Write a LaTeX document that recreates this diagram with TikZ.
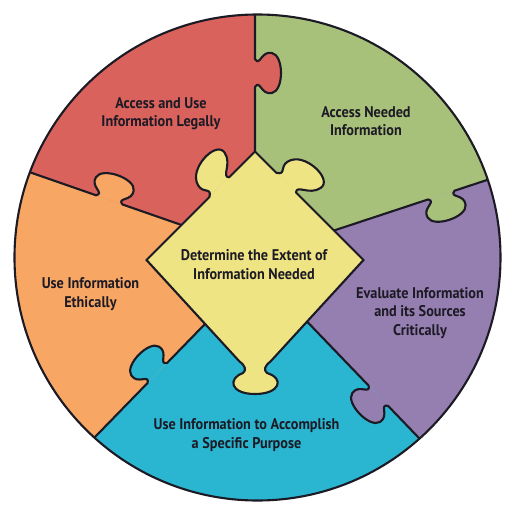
\documentclass[tikz,border=0pt]{standalone}
\usepackage{fontspec}
\newfontfamily\piecefont{PT Sans}[FakeStretch=0.92]
\usepackage{tikz}
\usetikzlibrary{calc}

\definecolor{legalred}{HTML}{D9625C}
\definecolor{accessgreen}{HTML}{A8C17A}
\definecolor{evalpurple}{HTML}{957EB0}
\definecolor{purposeblue}{HTML}{2AB6D0}
\definecolor{ethicorange}{HTML}{F7A664}
\definecolor{extentyellow}{HTML}{EEE484}
\definecolor{inkdark}{HTML}{1C1A24}

% puzzle knob on the local x axis, centred at #1, height factor #2
\newcommand\knob[2]{-- ({#1-0.28},0)
  .. controls ({#1-0.12},{#2*0.10}) and ({#1-0.45},{#2*0.12}) .. ({#1-0.40},{#2*0.34})
  .. controls ({#1-0.35},{#2*0.58}) and ({#1+0.35},{#2*0.58}) .. ({#1+0.40},{#2*0.34})
  .. controls ({#1+0.45},{#2*0.12}) and ({#1+0.12},{#2*0.10}) .. ({#1+0.28},0)}
% foot of the centre piece
\newcommand\stemknob{.. controls (0.14,-2.17) and (0.12,-2.25) .. (0.19,-2.31)
  .. controls (0.55,-2.42) and (0.45,-2.73) .. (-0.05,-2.73)
  .. controls (-0.55,-2.73) and (-0.60,-2.42) .. (-0.29,-2.31)
  .. controls (-0.22,-2.25) and (-0.24,-2.17) .. (-0.36,-2.08)}

\begin{document}
\begin{tikzpicture}[
  seam/.style={line width=1.2pt,draw=inkdark,line cap=round,line join=round},
  piecetext/.style={align=center,text=inkdark,
    font=\piecefont\bfseries\fontsize{8.8}{10.4}\selectfont}
]
\useasboundingbox (-5.15,-5.15) rectangle (5.15,5.15);

% centre piece
\coordinate (mid)   at (-0.05,-0.05);
\coordinate (top)   at (-0.05,2.12);
\coordinate (left)  at (-2.22,-0.05);
\coordinate (right) at (2.12,-0.05);
\coordinate (stemR) at (0.26,-2.08);
\coordinate (stemL) at (-0.36,-2.08);

% where the seams meet the centre piece and the rim
\coordinate (j2) at (1.53,0.54);
\coordinate (j3) at (0.99,-1.28);
\coordinate (j4) at (-1.05,-1.33);
\coordinate (j5) at (-1.52,0.65);
\coordinate (e1) at (-0.05,4.86);
\coordinate (e2) at (4.59,1.55);
\coordinate (e3) at (3.21,-3.59);
\coordinate (e4) at (-3.25,-3.59);
\coordinate (e5) at (-4.51,1.69);

\begin{scope}
  \clip (0,0) circle (4.86);
  % outer pieces
  \fill[accessgreen] (mid) -- (top) -- ($(top)!2.5!(e1)$) -- (50:9) -- ($(j2)!2.5!(e2)$) -- (j2) -- cycle;
  \fill[evalpurple]  (mid) -- (j2) -- ($(j2)!2.5!(e2)$) -- (-15:9) -- ($(j3)!2.5!(e3)$) -- (j3) -- cycle;
  \fill[purposeblue] (mid) -- (j3) -- ($(j3)!2.5!(e3)$) -- (-90:9) -- ($(j4)!2.5!(e4)$) -- (j4) -- cycle;
  \fill[ethicorange] (mid) -- (j4) -- ($(j4)!2.5!(e4)$) -- (190:9) -- ($(j5)!2.5!(e5)$) -- (j5) -- cycle;
  \fill[legalred]    (mid) -- (j5) -- ($(j5)!2.5!(e5)$) -- (125:9) -- ($(top)!2.5!(e1)$) -- (top) -- cycle;

  % seams with their knobs
  \begin{scope}[shift={(top)},rotate=90]
    \fill[legalred] (1.57,0) \knob{1.57}{-1} -- cycle;
    \draw[seam] (0,0) \knob{1.57}{-1} -- (3,0);
  \end{scope}
  \begin{scope}[shift={(j2)},rotate=18.27]
    \fill[accessgreen] (2.26,0) \knob{2.26}{-1} -- cycle;
    \draw[seam] (0,0) \knob{2.26}{-1} -- (3.4,0);
  \end{scope}
  \begin{scope}[shift={(j3)},rotate=-46.14]
    \fill[evalpurple] (2.06,0) \knob{2.06}{-1} -- cycle;
    \draw[seam] (0,0) \knob{2.06}{-1} -- (3.4,0);
  \end{scope}
  \begin{scope}[shift={(j4)},rotate=225.77]
    \fill[purposeblue] (1.365,0) \knob{1.365}{-1} -- cycle;
    \draw[seam] (0,0) \knob{1.365}{-1} -- (3.3,0);
  \end{scope}
  \begin{scope}[shift={(j5)},rotate=160.82]
    \fill[ethicorange] (1.53,0) \knob{1.53}{-1} -- cycle;
    \draw[seam] (0,0) \knob{1.53}{-1} -- (3.35,0);
  \end{scope}
\end{scope}

% the diamond in the middle
\fill[extentyellow] (top) -- (right) -- (stemR) \stemknob -- (left) -- cycle;
\begin{scope}[shift={(top)},rotate=225,xslant=0.4]
  \fill[extentyellow] (1.01,0) \knob{1.01}{-1.2} -- cycle;
  \draw[seam] (0,0) \knob{1.01}{-1.2} -- (3.07,0);
\end{scope}
\begin{scope}[shift={(top)},rotate=-45,xslant=0.4]
  \fill[extentyellow] (0.88,0) \knob{0.88}{1.2} -- cycle;
  \draw[seam] (0,0) \knob{0.88}{1.2} -- (3.07,0);
\end{scope}
\draw[seam] (right) -- (stemR) \stemknob -- (left);

\draw[seam] (0,0) circle (4.86);

% labels
\node[piecetext] (legal)    at (-1.93,2.87) {Access and Use\\Information Legally};
\node[piecetext] (access)   at (2.17,2.73)  {Access Needed\\Information};
\node[piecetext] (extent)   at (-0.07,-0.14) {Determine the Extent of\\Information Needed};
\node[piecetext] (ethic)    at (-3.34,-0.73) {Use Information\\Ethically};
\node[piecetext] (evaluate) at (3.25,-1.11)  {Evaluate Information\\and its Sources\\Critically};
\node[piecetext] (purpose)  at (-0.22,-3.55) {Use Information to Accomplish\\a Specific Purpose};
\end{tikzpicture}
\end{document}
